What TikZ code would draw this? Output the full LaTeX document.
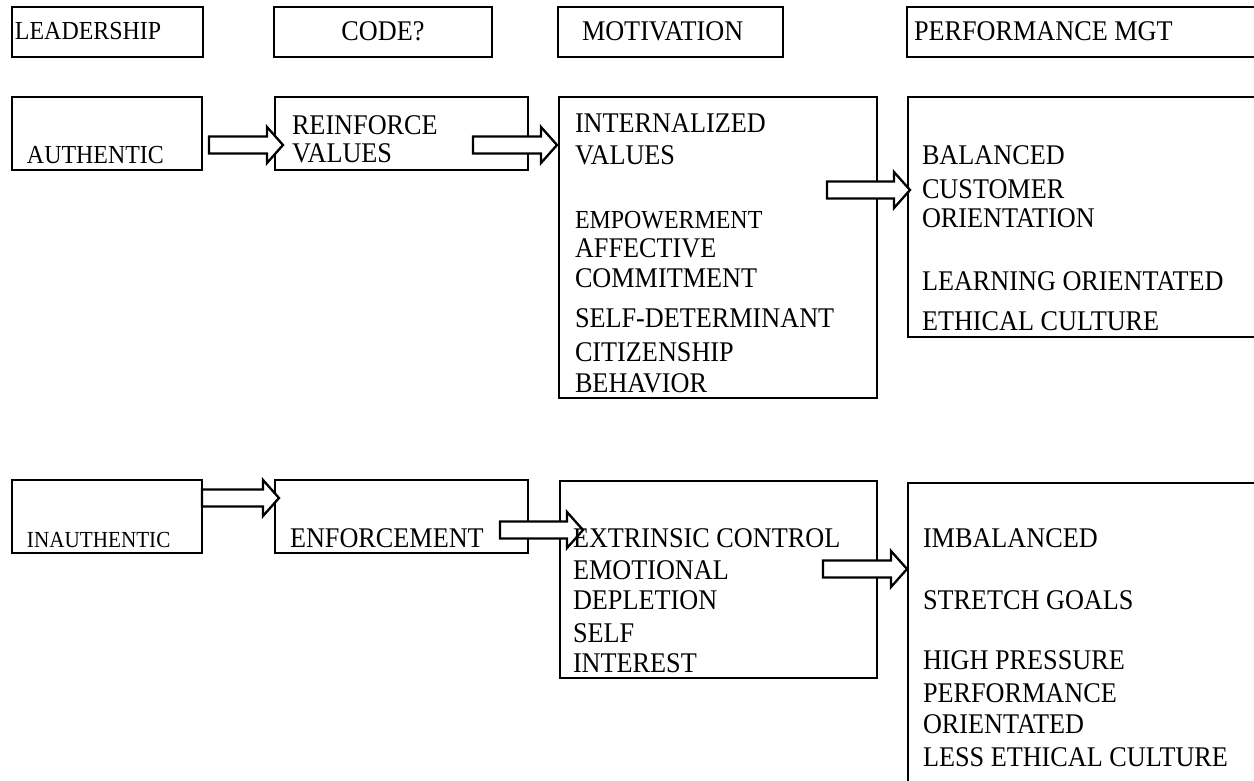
\documentclass[tikz,border=0pt]{standalone}
\usepackage{fontspec}
\setmainfont{Liberation Serif}[FakeStretch=0.92]
\usetikzlibrary{calc}
\tikzset{
  box/.style={draw=black, line width=2.6pt, anchor=north west, inner sep=0pt, outer sep=0pt},
  txt/.style={anchor=west, inner sep=0pt, outer sep=0pt, font=\fontsize{28.5}{32}\selectfont},
  txtm/.style={txt, font=\fontsize{26}{30}\selectfont},
  txts/.style={txt, font=\fontsize{23}{27}\selectfont},
  barrowstyle/.style={draw=black, fill=white, line width=2.3pt, line join=miter}
}
\newcommand{\barrow}[2]{%
  \draw[barrowstyle] let \p1=(#1), \p2=(#2) in
    (\x1,\y1+8.5pt) -- (\x2-16pt,\y1+8.5pt) -- (\x2-16pt,\y1+18pt) -- (\x2,\y1)
    -- (\x2-16pt,\y1-18pt) -- (\x2-16pt,\y1-8.5pt) -- (\x1,\y1-8.5pt) -- cycle;}
\begin{document}
\begin{tikzpicture}[x=1pt,y=-1pt]
\useasboundingbox (0,0) rectangle (1254,780);
\clip (0,0) rectangle (1254,780);
\fill[white] (0,0) rectangle (1254,780);
% header boxes
\node[box, minimum width=191pt, minimum height=50pt] (h1) at (12,7) {};
\node[box, minimum width=218pt, minimum height=50pt] (h2) at (274,7) {};
\node[box, minimum width=225pt, minimum height=50pt] (h3) at (558,7) {};
\node[box, minimum width=360pt, minimum height=50pt] (h4) at (907,7) {};
% row 1 boxes
\node[box, minimum width=190pt, minimum height=73pt] (auth) at (12,97) {};
\node[box, minimum width=253pt, minimum height=73pt] (reinf) at (275,97) {};
\node[box, minimum width=318pt, minimum height=301pt] (mot1) at (559,97) {};
\node[box, minimum width=360pt, minimum height=240pt] (perf1) at (908,97) {};
% row 2 boxes
\node[box, minimum width=190pt, minimum height=73pt] (inauth) at (12,480) {};
\node[box, minimum width=253pt, minimum height=73pt] (enf) at (275,480) {};
\node[box, minimum width=317pt, minimum height=197pt] (mot2) at (560,481) {};
\node[box, minimum width=360pt, minimum height=320pt] (perf2) at (908,483) {};
% arrows
\coordinate (a1s) at (209,145); \coordinate (a1e) at (283,145);
\coordinate (a2s) at (473,145); \coordinate (a2e) at (557,145);
\coordinate (a3s) at (827,190); \coordinate (a3e) at (910,190);
\coordinate (a4s) at (202,498); \coordinate (a4e) at (279,498);
\coordinate (a5s) at (500,530); \coordinate (a5e) at (583,530);
\coordinate (a6s) at (823,569); \coordinate (a6e) at (907,569);
\barrow{a1s}{a1e}
\barrow{a2s}{a2e}
\barrow{a3s}{a3e}
\barrow{a4s}{a4e}
\barrow{a5s}{a5e}
\barrow{a6s}{a6e}
% header texts
\node[txtm] (th1) at (15,31) {LEADERSHIP};
\node[txt, anchor=center] (th2) at ($(h2.center)+(0,-1)$) {CODE?};
\node[txt] (th3) at (582,31) {MOTIVATION};
\node[txt] (th4) at (914,31) {PERFORMANCE MGT};
% row 1 texts
\node[txtm] (t1) at (27,155) {AUTHENTIC};
\node[txt] (t2a) at (292,125) {REINFORCE};
\node[txt] (t2b) at (292,153) {VALUES};
\node[txt] (t3a) at (575,123) {INTERNALIZED};
\node[txt] (t3b) at (575,155) {VALUES};
\node[txtm] (t3c) at (575,220) {EMPOWERMENT};
\node[txt] (t3d) at (575,248) {AFFECTIVE};
\node[txt] (t3e) at (575,278) {COMMITMENT};
\node[txt] (t3f) at (575,318) {SELF-DETERMINANT};
\node[txt] (t3g) at (575,352) {CITIZENSHIP};
\node[txt] (t3h) at (575,383) {BEHAVIOR};
\node[txt] (t4a) at (922,155) {BALANCED};
\node[txt] (t4b) at (922,189) {CUSTOMER};
\node[txt] (t4c) at (922,218) {ORIENTATION};
\node[txt] (t4d) at (922,281) {LEARNING ORIENTATED};
\node[txt] (t4e) at (922,321) {ETHICAL CULTURE};
% row 2 texts
\node[txts] (u1) at (27,540) {INAUTHENTIC};
\node[txt] (u2) at (290,538) {ENFORCEMENT};
\node[txt] (u3a) at (573,538) {EXTRINSIC CONTROL};
\node[txt] (u3b) at (573,570) {EMOTIONAL};
\node[txt] (u3c) at (573,600) {DEPLETION};
\node[txt] (u3d) at (573,633) {SELF};
\node[txt] (u3e) at (573,663) {INTEREST};
\node[txt] (u4a) at (923,538) {IMBALANCED};
\node[txt] (u4b) at (923,600) {STRETCH GOALS};
\node[txt] (u4c) at (923,660) {HIGH PRESSURE};
\node[txt] (u4d) at (923,693) {PERFORMANCE};
\node[txt] (u4e) at (923,724) {ORIENTATED};
\node[txt] (u4f) at (923,757) {LESS ETHICAL CULTURE};
\end{tikzpicture}
\end{document}
